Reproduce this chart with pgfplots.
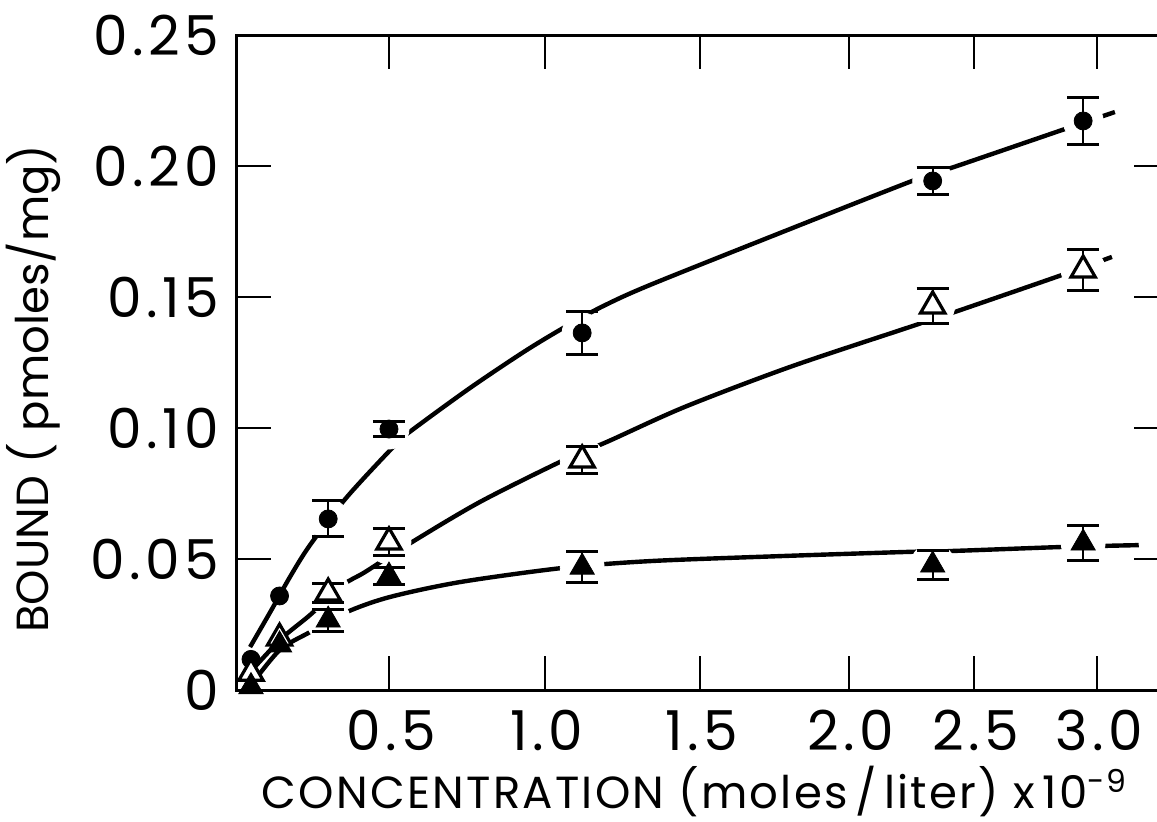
\documentclass[border=0pt]{standalone}
\usepackage{pgfplots}
\pgfplotsset{compat=1.18}
\usepackage{fontspec}
\setmainfont{Poppins}
\newfontfamily\tickfam[LetterSpace=8]{Poppins}
\newfontfamily\labfam[LetterSpace=5]{Poppins}
\newcommand{\tickfont}{\tickfam\fontsize{27.5}{30}\selectfont}
\newcommand{\labfont}{\fontsize{22.5}{26}\selectfont}
\pgfplotsset{
  handdrawnx/.style={
    x coord trafo/.code={%
      \pgfmathparse{(##1)<0.5 ? 304*(##1) : ((##1)<1 ? 152+312*((##1)-0.5) : ((##1)<1.5 ? 308+310*((##1)-1) : ((##1)<2 ? 463+298*((##1)-1.5) : ((##1)<2.5 ? 612+250*((##1)-2) : 737+246*((##1)-2.5)))))}%
    },
  },
  curve/.style={black, line width=2.2pt, smooth, tension=0.5, no marks, forget plot},
  halo/.style={only marks, mark=*, mark options={white, fill=white, draw=white}, forget plot},
  ebar/.style={only marks,
    error bars/y dir=both, error bars/y explicit, error bars/error mark=-,
    error bars/error bar style={line width=1pt, black},
    error bars/error mark options={rotate=90, line width=1.5pt, mark size=8pt, black}},
}
\begin{document}
\begin{tikzpicture}
\begin{axis}[
  handdrawnx,
  at={(118.5pt,65.5pt)}, anchor=south west,
  scale only axis, width=465.5pt, height=327.5pt,
  clip=false, clip marker paths=true,
  xmin=0, xmax=3.289, ymin=0, ymax=0.25,
  xtick={0.5,1,1.5,2,2.5,3}, xticklabels={0.5,1.0,1.5,2.0,2.5,3.0},
  ytick={0,0.05,0.1,0.15,0.2,0.25}, yticklabels={0,0.05,0.10,0.15,0.20,0.25},
  tick align=inside, major tick length=17pt,
  every tick/.style={black, line width=1.3pt},
  axis line style={line width=1.5pt},
  xticklabel style={font=\tickfont, anchor=north, inner sep=0pt, yshift=-10pt, xshift=1pt},
  yticklabel style={font=\tickfont, anchor=east, inner sep=0pt, xshift=-9pt},
  xlabel={\labfam CONCENTRATION (moles\,/\,liter) x\,10\textsuperscript{-9}},
  ylabel={BOUND ( pmoles/mg)},
  xlabel style={font=\labfont, at={(rel axis cs:0.4914,-0.1802)}, anchor=base},
  ylabel style={font=\labfont, at={(rel axis cs:-0.203,0.4600)}, anchor=base, rotate=0},
]
% ---- filled triangles: fitted curve
\addplot[curve] coordinates {
(0.049,0.0023)(0.141,0.0153)(0.240,0.0221)(0.362,0.0298)(0.503,0.0355)(0.728,0.0412)
(1.058,0.0466)(1.339,0.0492)(1.768,0.0511)(2.232,0.0527)(2.424,0.0531)(2.862,0.0546)(3.17,0.0553)};
\addplot[halo, mark size=11pt] coordinates {(0.30,0.0267)(1.12,0.0469)(2.335,0.0477)(2.944,0.0561)};
% ---- open triangles: fitted curve
\addplot[curve] coordinates {
(0.049,0.0076)(0.148,0.0198)(0.240,0.0286)(0.349,0.0401)(0.421,0.0450)(0.558,0.0553)
(0.792,0.0718)(1.074,0.0885)(1.200,0.0947)(1.450,0.1080)(1.802,0.1233)
(2.232,0.1382)(2.424,0.1443)(2.870,0.1588)(3.061,0.1653)};
\addplot[halo, mark size=11pt] coordinates {(0.30,0.037)(0.50,0.0565)(1.12,0.0878)(2.335,0.1466)(2.944,0.1603)};
% ---- filled circles: fitted curve
\addplot[curve] coordinates {
(0.043,0.0164)(0.115,0.0309)(0.174,0.0431)(0.240,0.0553)(0.362,0.0737)(0.526,0.0943)
(0.574,0.0992)(0.760,0.1153)(0.942,0.1298)(1.087,0.1401)(1.194,0.1469)(1.339,0.1546)
(1.768,0.1744)(2.264,0.1947)(2.432,0.2000)(2.882,0.2145)(3.073,0.2206)};
\addplot[halo, mark size=10pt] coordinates {(0.30,0.0653)(0.50,0.0996)(1.12,0.1363)(2.335,0.1943)(2.944,0.2172)};
% ---- data points
\addplot[only marks, mark=*, mark size=4.5pt, black] coordinates {(0.046,0.0117)(0.14,0.0359)};
\addplot[ebar, mark=*, mark size=4.5pt, black] coordinates {
(0.30,0.0653) +- (0,0.0069)
(0.50,0.0996) +- (0,0.0030)
(1.12,0.1363) +- (0,0.0083)
(2.335,0.1943) +- (0,0.0050)
(2.944,0.2172) +- (0,0.0089)};
\addplot[only marks, mark=triangle*, mark size=7pt, mark options={fill=white, draw=black, line width=1.6pt}] coordinates {(0.046,0.0064)(0.14,0.0198)};
\addplot[ebar, mark=triangle*, mark size=7pt, mark options={fill=white, draw=black, line width=1.6pt}] coordinates {
(0.30,0.0370) +- (0,0.0036)
(0.50,0.0565) +- (0,0.0050)
(1.12,0.0878) +- (0,0.0051)
(2.335,0.1466) +- (0,0.0067)
(2.944,0.1603) +- (0,0.0078)};
\addplot[only marks, mark=triangle*, mark size=7pt, black] coordinates {(0.046,0.0013)(0.14,0.0172)};
\addplot[ebar, mark=triangle*, mark size=7pt, black] coordinates {
(0.30,0.0267) +- (0,0.0042)
(0.50,0.0435) +- (0,0.0034)
(1.12,0.0469) +- (0,0.0060)
(2.335,0.0477) +- (0,0.0055)
(2.944,0.0561) +- (0,0.0067)};
\end{axis}
\pgfresetboundingbox
\path[use as bounding box] (0,0) rectangle (578.5pt,410.5pt);
\end{tikzpicture}
\end{document}
